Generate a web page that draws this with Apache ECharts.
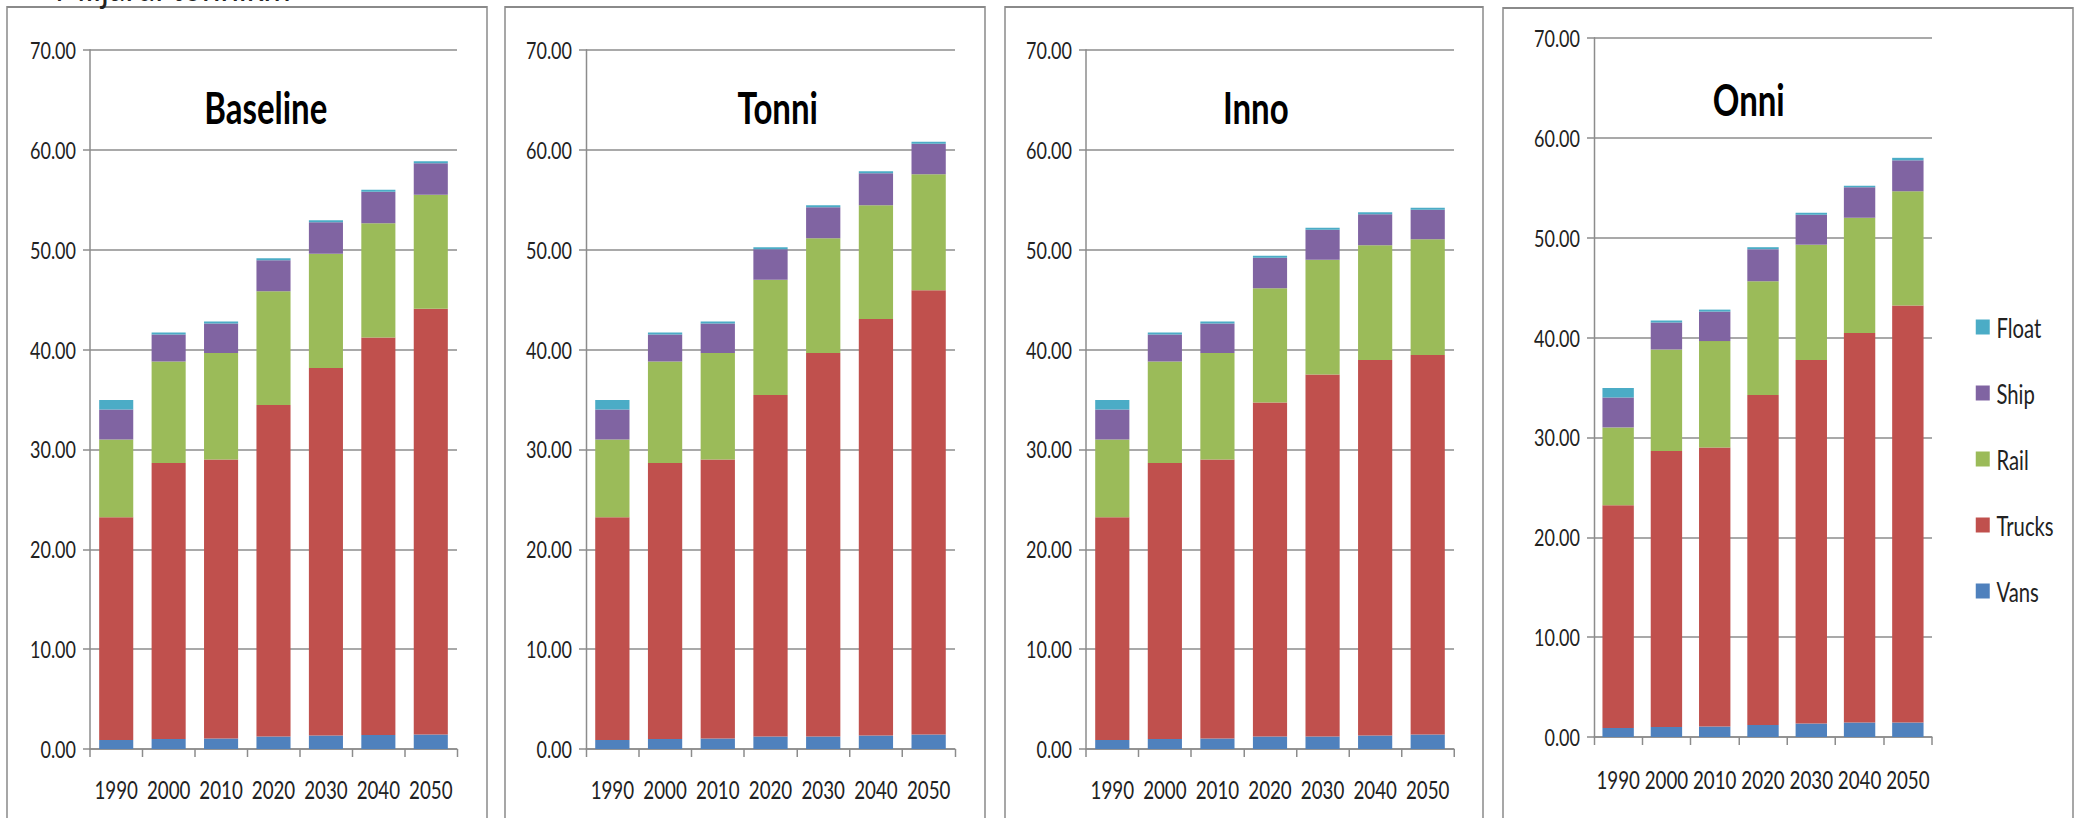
<!DOCTYPE html>
<html>
<head>
<meta charset="utf-8">
<script src="https://cdn.jsdelivr.net/npm/echarts@6/dist/echarts.min.js"></script>
<style>
html,body{margin:0;padding:0;background:#fff;overflow:hidden;width:2078px;height:818px;}
#wrap{width:2078px;height:818px;overflow:hidden;position:relative;}
#chart{height:818px;transform-origin:0 0;position:absolute;left:0;top:0;}
</style>
</head>
<body>
<div id="wrap"><div id="chart"></div></div>
<script>
const years = ['1990','2000','2010','2020','2030','2040','2050'];
const yTicks = [0,10,20,30,40,50,60,70];
const seriesNames = ['Vans','Trucks','Rail','Ship','Float'];
const legendOrder = ['Float','Ship','Rail','Trucks','Vans'];
const scenarioTitles = ['Baseline','Tonni','Inno','Onni'];
const unitLabel = 'Miljardi tonnikm';

const baselineVans   = [0.9, 1.0, 1.05, 1.25, 1.35, 1.4, 1.45];
const baselineTrucks = [22.3, 27.65, 27.95, 33.2, 36.8, 39.8, 42.65];
const baselineRail   = [7.8, 10.15, 10.65, 11.4, 11.45, 11.45, 11.4];
const baselineShip   = [3.0, 2.7, 2.95, 3.1, 3.15, 3.15, 3.15];
const baselineFloat  = [0.95, 0.2, 0.2, 0.2, 0.2, 0.2, 0.2];

const tonniVans   = [0.9, 1.0, 1.05, 1.25, 1.25, 1.35, 1.45];
const tonniTrucks = [22.3, 27.65, 27.95, 34.2, 38.4, 41.7, 44.5];
const tonniRail   = [7.8, 10.15, 10.65, 11.55, 11.5, 11.4, 11.6];
const tonniShip   = [3.0, 2.7, 2.95, 3.05, 3.1, 3.2, 3.05];
const tonniFloat  = [0.95, 0.2, 0.2, 0.2, 0.2, 0.2, 0.2];

const innoVans   = [0.9, 1.0, 1.05, 1.25, 1.25, 1.35, 1.45];
const innoTrucks = [22.3, 27.65, 27.95, 33.45, 36.25, 37.6, 38.0];
const innoRail   = [7.8, 10.15, 10.65, 11.45, 11.5, 11.5, 11.6];
const innoShip   = [3.0, 2.7, 2.95, 3.05, 3.0, 3.1, 2.95];
const innoFloat  = [0.95, 0.2, 0.2, 0.2, 0.2, 0.2, 0.2];

const onniVans   = [0.9, 1.0, 1.05, 1.2, 1.35, 1.45, 1.45];
const onniTrucks = [22.3, 27.65, 27.95, 33.05, 36.4, 39.0, 41.75];
const onniRail   = [7.8, 10.15, 10.65, 11.4, 11.55, 11.55, 11.45];
const onniShip   = [3.0, 2.7, 2.95, 3.2, 3.0, 3.05, 3.1];
const onniFloat  = [0.95, 0.2, 0.2, 0.2, 0.2, 0.15, 0.25];

const scenarioData = [
  [baselineVans, baselineTrucks, baselineRail, baselineShip, baselineFloat],
  [tonniVans, tonniTrucks, tonniRail, tonniShip, tonniFloat],
  [innoVans, innoTrucks, innoRail, innoShip, innoFloat],
  [onniVans, onniTrucks, onniRail, onniShip, onniFloat]
];

// The reference picture is horizontally compressed; reproduce that with a uniform scaleX.
const S = 0.75;
const X = v => v / S;
const chartEl = document.getElementById('chart');
chartEl.style.width = X(2078) + 'px';
chartEl.style.transform = 'scaleX(' + S + ')';

const colors = {Vans:'#4F81BD', Trucks:'#C0504D', Rail:'#9BBB59', Ship:'#8064A2', Float:'#4BACC6'};
const FONT = 'Lato, "Noto Sans", sans-serif';
const gridLine = '#8c8c8c';

const gridsPx = [
  {l:90, r:457, top:50, bottom:69, lm:28},
  {l:586, r:955, top:50, bottom:69, lm:28},
  {l:1086, r:1454, top:50, bottom:69, lm:28},
  {l:1594, r:1932, top:38, bottom:81, lm:30}
];
const titlePos = [
  {x:262, y:80},
  {x:774, y:80},
  {x:1252, y:80},
  {x:1745, y:72}
];
const panels = [
  {x:7, y:7, w:480},
  {x:505, y:7, w:480},
  {x:1005, y:7, w:478},
  {x:1503, y:8, w:570}
];

const grids = [], xAxes = [], yAxes = [], series = [], titles = [];
gridsPx.forEach((g, i) => {
  grids.push({left:X(g.l), width:X(g.r - g.l), top:g.top, bottom:g.bottom});
  xAxes.push({
    type:'category', gridIndex:i, data:years,
    axisLine:{show:true, lineStyle:{color:gridLine, width:1.5}},
    axisTick:{show:true, alignWithLabel:false, length:8, lineStyle:{color:gridLine, width:2}},
    axisLabel:{color:'#222', fontFamily:FONT, fontSize:25, margin:g.lm, interval:0}
  });
  yAxes.push({
    type:'value', gridIndex:i, min:0, max:70, interval:10,
    axisLine:{show:true, lineStyle:{color:gridLine, width:2}},
    axisTick:{show:true, inside:false, length:X(7), lineStyle:{color:gridLine, width:1.5}},
    axisLabel:{color:'#222', fontFamily:FONT, fontSize:24, margin:X(14),
      formatter: v => v.toFixed(2)},
    splitLine:{show:true, lineStyle:{color:gridLine, width:1.5}}
  });
  titles.push({
    text:scenarioTitles[i], left:X(titlePos[i].x), top:titlePos[i].y, textAlign:'center',
    textStyle:{fontFamily:FONT, fontWeight:'bold', fontSize:44, color:'#000'}
  });
  seriesNames.forEach((name, k) => {
    series.push({
      name:name, type:'bar', stack:'s'+i, xAxisIndex:i, yAxisIndex:i,
      data:scenarioData[i][k], barCategoryGap:'35%',
      itemStyle:{color:colors[name]}
    });
  });
});

const graphics = panels.map(p => ({
  type:'rect', shape:{x:X(p.x), y:p.y, width:X(p.w), height:900},
  style:{fill:'none', stroke:'#8a8a8a', lineWidth:2}, silent:true, z:-1
}));
graphics.push({
  type:'text', left:X(55), top:-38,
  style:{text:unitLabel, fontFamily:FONT, fontSize:44, fill:'#222'}
});

const chart = echarts.init(chartEl, null, {renderer:'svg'});
chart.setOption({
  animation:false,
  backgroundColor:'#fff',
  title:titles,
  grid:grids,
  xAxis:xAxes,
  yAxis:yAxes,
  legend:{
    data:legendOrder, orient:'vertical', left:X(1972), top:308,
    itemWidth:X(14), itemHeight:15, itemGap:38,
    icon:'rect',
    textStyle:{fontFamily:FONT, fontSize:27, color:'#222', lineHeight:28, padding:[0,0,0,4]}
  },
  graphic:graphics,
  series:series
});
</script>
</body>
</html>
